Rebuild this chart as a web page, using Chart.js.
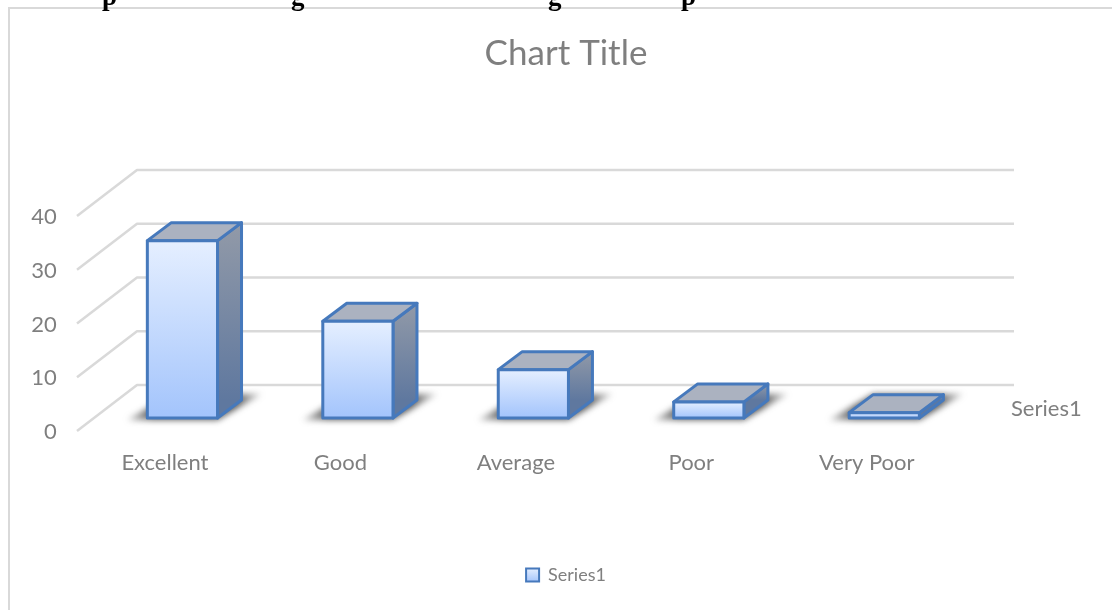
<!DOCTYPE html>
<html><head><meta charset="utf-8">
<style>
html,body{margin:0;padding:0;background:#fff;width:1112px;height:610px;overflow:hidden}
#wrap{position:absolute;left:0;top:0;width:1112px;height:610px}
.frag{position:absolute;font:bold 27px "Liberation Serif",serif;color:#000;line-height:30px;top:-19px}
</style>
<script src="https://cdn.jsdelivr.net/npm/chart.js@4/dist/chart.umd.min.js"></script>
</head><body>
<div id="wrap"><canvas id="c" width="1112" height="610"></canvas></div>
<span class="frag" style="left:102px">p</span>
<span class="frag" style="left:291px">g</span>
<span class="frag" style="left:548px">g</span>
<span class="frag" style="left:681px">p</span>
<script>
const categories = ["Excellent","Good","Average","Poor","Very Poor"];
const seriesName = "Series1";
const seriesValues = [33,18,9,3,1];
const chartTitle = "Chart Title";
const yMin = 0, yMax = 40, yStep = 10;

const FONT = 'Lato, "Open Sans", sans-serif';
const TXT = '#7F7F7F', EDGE = '#4679BC', GRID = '#D9D9D9';
const DX = 24, DY = -18;

function vGrad(ctx, y0, y1, c0, c1){
  const g = ctx.createLinearGradient(0,y0,0,y1);
  g.addColorStop(0,c0); g.addColorStop(1,c1); return g;
}
function poly(ctx, pts){
  ctx.beginPath(); ctx.moveTo(pts[0][0],pts[0][1]);
  for(let i=1;i<pts.length;i++) ctx.lineTo(pts[i][0],pts[i][1]);
  ctx.closePath();
}

const scene = {
  id:'scene',
  beforeDraw(chart){
    const ctx = chart.ctx;
    ctx.save();
    ctx.fillStyle='#fff'; ctx.fillRect(0,0,chart.width,chart.height);
    ctx.strokeStyle='#D9D9D9'; ctx.lineWidth=2;
    ctx.beginPath(); ctx.moveTo(9,chart.height); ctx.lineTo(9,8); ctx.lineTo(chart.width,8); ctx.stroke();
    ctx.restore();
  },
  beforeDatasetsDraw(chart){
    const ctx = chart.ctx, ys = chart.scales.y, a = chart.chartArea;
    ctx.save();
    ctx.strokeStyle=GRID; ctx.lineWidth=2.5; ctx.lineJoin='round';
    ys.ticks.forEach(t=>{
      const p = ys.getPixelForValue(t.value);
      ctx.beginPath();
      ctx.moveTo(a.left-17.7,p+13);
      ctx.lineTo(a.left+42.3,p-33);
      ctx.lineTo(a.right+42,p-33);
      ctx.stroke();
    });
    const bars = chart.getDatasetMeta(0).data;
    bars.forEach(b=>{
      const x0=b.x-b.width/2, x1=b.x+b.width/2, base=b.base;
      ctx.save();
      ctx.filter='blur(3px)';
      const sg = ctx.createLinearGradient(x0-22,0,x1+46,0);
      sg.addColorStop(0,'rgba(90,90,90,0.3)');
      sg.addColorStop(0.2,'rgba(50,50,50,0.8)');
      sg.addColorStop(0.8,'rgba(50,50,50,0.8)');
      sg.addColorStop(1,'rgba(100,100,100,0.25)');
      ctx.fillStyle=sg;
      poly(ctx,[[x0-20,base+2],[x1,base+2],[x1+44,base-24],[x0+24,base-24]]);
      ctx.fill();
      ctx.restore();
    });
    bars.forEach(b=>{
      const x0=b.x-b.width/2, x1=b.x+b.width/2, base=b.base, top=b.y;
      ctx.strokeStyle=EDGE; ctx.lineWidth=3; ctx.lineJoin='round';
      ctx.fillStyle=vGrad(ctx,top+DY,base+DY,'#929AA8','#5F789F');
      poly(ctx,[[x1,top],[x1+DX,top+DY],[x1+DX,base+DY],[x1,base]]);
      ctx.fill(); ctx.stroke();
      ctx.fillStyle='#ABB2C0';
      poly(ctx,[[x0,top],[x1,top],[x1+DX,top+DY],[x0+DX,top+DY]]);
      ctx.fill(); ctx.stroke();
    });
    ctx.restore();
  },
  afterDatasetsDraw(chart){
    const ctx = chart.ctx;
    ctx.save();
    ctx.strokeStyle=EDGE; ctx.lineWidth=3; ctx.lineJoin='round';
    chart.getDatasetMeta(0).data.forEach(b=>{
      ctx.strokeRect(b.x-b.width/2,b.y,b.width,b.base-b.y);
    });
    ctx.restore();
  }
};

new Chart(document.getElementById('c').getContext('2d'),{
  type:'bar',
  data:{labels:categories,datasets:[{
    label:seriesName,
    data:seriesValues,
    yAxisID:'y',
    barPercentage:0.4,
    categoryPercentage:1,
    borderWidth:0,
    backgroundColor(c){
      const ch=c.chart, s=ch.scales.y;
      if(!s||c.parsed===undefined||c.parsed===null) return '#C5D9FC';
      return vGrad(ch.ctx,s.getPixelForValue(c.parsed.y),s.getPixelForValue(0),'#E5EFFF','#A3C4FC');
    }
  }]},
  options:{
    responsive:false,
    animation:false,
    layout:{padding:{left:20,right:0,top:0,bottom:16}},
    plugins:{
      tooltip:{enabled:false},
      title:{display:true,text:chartTitle,color:TXT,
        font:{family:FONT,size:35,weight:'normal',lineHeight:1.2},
        padding:{top:33,bottom:128}},
      legend:{position:'bottom',
        labels:{color:TXT,font:{family:FONT,size:18},boxWidth:13,boxHeight:13,padding:9,
          generateLabels(chart){
            return [{text:seriesName,fillStyle:vGrad(chart.ctx,568,582,'#E5EFFF','#A3C4FC'),
              strokeStyle:EDGE,lineWidth:2,hidden:false,datasetIndex:0,fontColor:TXT}];
          }}}
    },
    scales:{
      x:{
        grid:{display:false,drawTicks:false},border:{display:false},
        afterFit(s){s.height=139;},
        ticks:{color:TXT,font:{family:FONT,size:22},padding:32,labelOffset:-17.5,maxRotation:0,autoSkip:false}
      },
      y:{
        min:yMin,max:yMax,
        grid:{display:false,drawTicks:false},border:{display:false},
        afterFit(s){s.width=74.7;},
        ticks:{stepSize:yStep,color:TXT,font:{family:FONT,size:22},padding:38,labelOffset:14}
      },
      depth:{
        type:'linear',position:'right',min:yMin,max:yMax,
        grid:{display:false,drawTicks:false,drawOnChartArea:false},border:{display:false},
        afterFit(s){s.width=140;},
        afterBuildTicks(s){s.ticks=[{value:yMin}];},
        ticks:{color:TXT,font:{family:FONT,size:22},padding:39,labelOffset:-9,callback(){return seriesName;}}
      }
    }
  },
  plugins:[scene]
});
</script>
</body></html>
